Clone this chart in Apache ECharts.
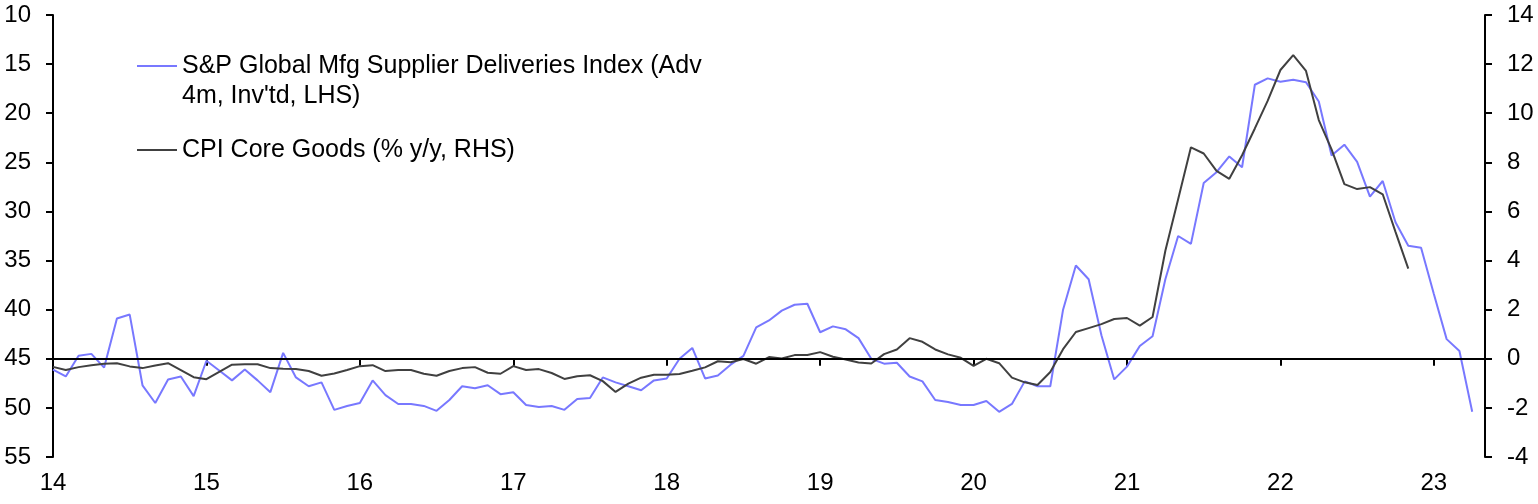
<!DOCTYPE html>
<html>
<head>
<meta charset="utf-8">
<script src="https://cdn.jsdelivr.net/npm/echarts@6/dist/echarts.min.js"></script>
<style>
html,body{margin:0;padding:0;background:#fff;}
#chart{width:1538px;height:504px;}
</style>
</head>
<body>
<div id="chart"></div>
<script>
// Monthly categories: Jan 2014 .. May 2023 (axis end)
const startYear = 2014;
const monthCount = 113;
const months = [];
for (let i = 0; i < monthCount; i++) {
  const y = startYear + Math.floor(i / 12);
  const m = (i % 12) + 1;
  months.push(y + '-' + (m < 10 ? '0' + m : m));
}
const yearLabels = ['14','15','16','17','18','19','20','21','22','23'];

const supplierName = "S&P Global Mfg Supplier Deliveries Index (Adv 4m, Inv'td, LHS)";
const cpiName = "CPI Core Goods (% y/y, RHS)";

// S&P Global Mfg Supplier Deliveries Index (advanced 4m, inverted, LHS), Jan 2014 .. Apr 2023
const supplierDeliveries = [
  46.1, 46.8, 44.7, 44.5, 45.9, 40.9, 40.5, 47.7, 49.5, 47.1, 46.8, 48.8,
  45.2, 46.2, 47.2, 46.1, 47.2, 48.4, 44.4, 46.9, 47.8, 47.4, 50.2, 49.8,
  49.5, 47.2, 48.7, 49.6, 49.6, 49.8, 50.3, 49.2, 47.8, 48.0, 47.7, 48.6,
  48.4, 49.7, 49.9, 49.8, 50.2, 49.1, 49.0, 46.9, 47.4, 47.8, 48.2, 47.2,
  47.0, 45.0, 43.9, 47.0, 46.7, 45.6, 44.7, 41.8, 41.1, 40.1, 39.5, 39.4,
  42.3, 41.7, 42.0, 42.9, 45.0, 45.5, 45.4, 46.8, 47.3, 49.2, 49.4, 49.7,
  49.7, 49.3, 50.4, 49.6, 47.3, 47.8, 47.8, 40.0, 35.5, 36.9, 42.6, 47.1,
  45.8, 43.7, 42.7, 36.9, 32.5, 33.3, 27.1, 26.0, 24.4, 25.5, 17.1, 16.45,
  16.8, 16.6, 16.85, 18.8, 24.3, 23.2, 24.95, 28.5, 26.9, 31.1, 33.5, 33.7,
  38.4, 43.0, 44.2, 50.4
];

// CPI Core Goods (% y/y, RHS), Jan 2014 .. Nov 2022
const cpiCoreGoods = [
  -0.33, -0.46, -0.34, -0.26, -0.20, -0.18, -0.31, -0.38, -0.27, -0.18, -0.46, -0.75,
  -0.83, -0.53, -0.24, -0.22, -0.22, -0.38, -0.41, -0.42, -0.50, -0.69, -0.60, -0.46,
  -0.30, -0.26, -0.50, -0.46, -0.46, -0.61, -0.69, -0.50, -0.38, -0.34, -0.57, -0.61,
  -0.30, -0.46, -0.42, -0.58, -0.82, -0.71, -0.67, -0.91, -1.35, -1.01, -0.77, -0.65,
  -0.65, -0.62, -0.49, -0.35, -0.10, -0.14, -0.01, -0.20, 0.07, 0.01, 0.15, 0.15,
  0.27, 0.08, -0.03, -0.15, -0.19, 0.19, 0.38, 0.84, 0.69, 0.38, 0.18, 0.04,
  -0.29, 0.00, -0.18, -0.77, -0.96, -1.07, -0.54, 0.39, 1.09, 1.25, 1.41, 1.62,
  1.66, 1.35, 1.70, 4.4, 6.5, 8.61, 8.36, 7.65, 7.33, 8.29, 9.38, 10.5,
  11.76, 12.37, 11.72, 9.72, 8.53, 7.11, 6.91, 6.99, 6.70, 5.17, 3.67
];

const FONT = "'Liberation Sans', Arial, sans-serif";
const blue = '#7878FF';
const dark = '#404040';

const chart = echarts.init(document.getElementById('chart'), null, {renderer: 'canvas'});

const axisLine = {show: true, lineStyle: {color: '#000', width: 2}};
const axisTick = {show: true, length: 7, lineStyle: {color: '#000', width: 2}};
const axisLabel = {color: '#000', fontSize: 24, fontFamily: FONT};

const legendText = {color: '#000', fontSize: 25, fontFamily: FONT, lineHeight: 30};

chart.setOption({
  animation: false,
  backgroundColor: '#fff',
  grid: {left: 53, right: 53, top: 15, bottom: 47, containLabel: false},
  legend: [
    {
      data: [supplierName],
      left: 137, top: 21, padding: 0,
      icon: 'rect', itemWidth: 40, itemHeight: 2,
      textStyle: legendText,
      formatter: () => "\nS&P Global Mfg Supplier Deliveries Index (Adv\n4m, Inv'td, LHS)"
    },
    {
      data: [cpiName],
      left: 137, top: 135, padding: 0,
      icon: 'rect', itemWidth: 40, itemHeight: 2,
      textStyle: legendText
    }
  ],
  xAxis: {
    type: 'category',
    data: months,
    boundaryGap: false,
    axisLine: axisLine,
    axisTick: Object.assign({}, axisTick, {interval: (i) => i % 12 === 0}),
    axisLabel: Object.assign({}, axisLabel, {
      margin: 14,
      interval: (i) => i % 12 === 0,
      formatter: (v, i) => yearLabels[i / 12] || ''
    }),
    splitLine: {show: false}
  },
  yAxis: [
    {
      type: 'value', position: 'left', inverse: true,
      min: 10, max: 55, interval: 5,
      axisLine: axisLine, axisTick: axisTick,
      axisLabel: Object.assign({}, axisLabel, {margin: 22}),
      splitLine: {show: false}
    },
    {
      type: 'value', position: 'right',
      min: -4, max: 14, interval: 2,
      axisLine: axisLine, axisTick: axisTick,
      axisLabel: Object.assign({}, axisLabel, {margin: 22}),
      splitLine: {show: false}
    }
  ],
  series: [
    {
      name: supplierName, type: 'line', yAxisIndex: 0,
      data: supplierDeliveries,
      showSymbol: false, symbol: 'none',
      lineStyle: {color: blue, width: 2},
      itemStyle: {color: blue},
      z: 3
    },
    {
      name: cpiName, type: 'line', yAxisIndex: 1,
      data: cpiCoreGoods,
      showSymbol: false, symbol: 'none',
      lineStyle: {color: dark, width: 2},
      itemStyle: {color: dark},
      z: 4,
      markLine: {
        silent: true, symbol: 'none',
        label: {show: false},
        lineStyle: {color: '#000', width: 2, type: 'solid'},
        data: [{yAxis: 0}]
      }
    }
  ]
});
</script>
</body>
</html>
